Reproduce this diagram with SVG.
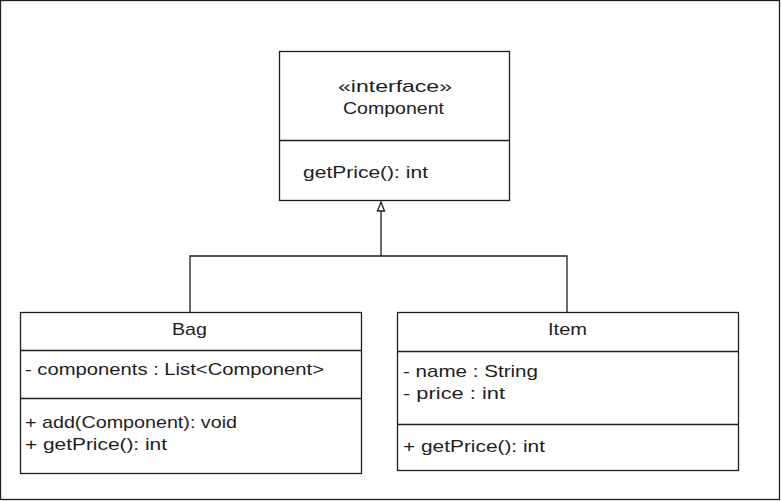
<svg xmlns="http://www.w3.org/2000/svg" width="781" height="501" viewBox="0 0 781 501">
<style>
.box{fill:#fff;stroke:#1e1e1e;stroke-width:1.3}
.ln{stroke:#1e1e1e;stroke-width:1.3;fill:none}
.t{font-family:"Liberation Sans",Arial,sans-serif;font-size:17px;fill:#1e1e1e}
.c{text-anchor:middle}
</style>
<defs>
<marker id="tri" viewBox="0 0 10 12" refX="5" refY="0" markerWidth="7" markerHeight="9" markerUnits="userSpaceOnUse" orient="auto-start-reverse">
<path d="M5,0 L9,11 L1,11 Z" fill="#fff" stroke="#1e1e1e" stroke-width="1.3"/>
</marker>
</defs>
<rect x="0.5" y="0.5" width="779" height="499" fill="#fff" stroke="#1e1e1e" stroke-width="1.3"/>
<g id="connectors">
<path class="ln" d="M190,312 V256 H567 V312"/>
<path class="ln" d="M381,256 V210"/>
<path d="M381,202 L384.5,211 L377.5,211 Z" fill="#fff" stroke="#1e1e1e" stroke-width="1.3"/>
</g>
<g id="component">
<rect class="box" x="279.5" y="51.5" width="230" height="149"/>
<line class="ln" x1="279.5" y1="140.5" x2="509.5" y2="140.5"/>
<text class="t c" x="395" y="92" textLength="114" lengthAdjust="spacingAndGlyphs">«interface»</text>
<text class="t c" x="393.5" y="114" textLength="101" lengthAdjust="spacingAndGlyphs">Component</text>
<text class="t" x="303" y="178" textLength="125" lengthAdjust="spacingAndGlyphs">getPrice(): int</text>
</g>
<g id="bag">
<rect class="box" x="20.5" y="312.5" width="341" height="161"/>
<line class="ln" x1="20.5" y1="350.5" x2="361.5" y2="350.5"/>
<line class="ln" x1="20.5" y1="398.5" x2="361.5" y2="398.5"/>
<text class="t c" x="189.5" y="335" textLength="35" lengthAdjust="spacingAndGlyphs">Bag</text>
<text class="t" x="25" y="375" textLength="299" lengthAdjust="spacingAndGlyphs">- components : List&lt;Component&gt;</text>
<text class="t" x="25" y="428" textLength="212" lengthAdjust="spacingAndGlyphs">+ add(Component): void</text>
<text class="t" x="25" y="450" textLength="142" lengthAdjust="spacingAndGlyphs">+ getPrice(): int</text>
</g>
<g id="item">
<rect class="box" x="397.5" y="312.5" width="341" height="158"/>
<line class="ln" x1="397.5" y1="351.5" x2="738.5" y2="351.5"/>
<line class="ln" x1="397.5" y1="424.5" x2="738.5" y2="424.5"/>
<text class="t c" x="567.5" y="335" textLength="39" lengthAdjust="spacingAndGlyphs">Item</text>
<text class="t" x="403" y="377" textLength="135" lengthAdjust="spacingAndGlyphs">- name : String</text>
<text class="t" x="403" y="399" textLength="102" lengthAdjust="spacingAndGlyphs">- price : int</text>
<text class="t" x="403" y="452" textLength="142" lengthAdjust="spacingAndGlyphs">+ getPrice(): int</text>
</g>
</svg>
